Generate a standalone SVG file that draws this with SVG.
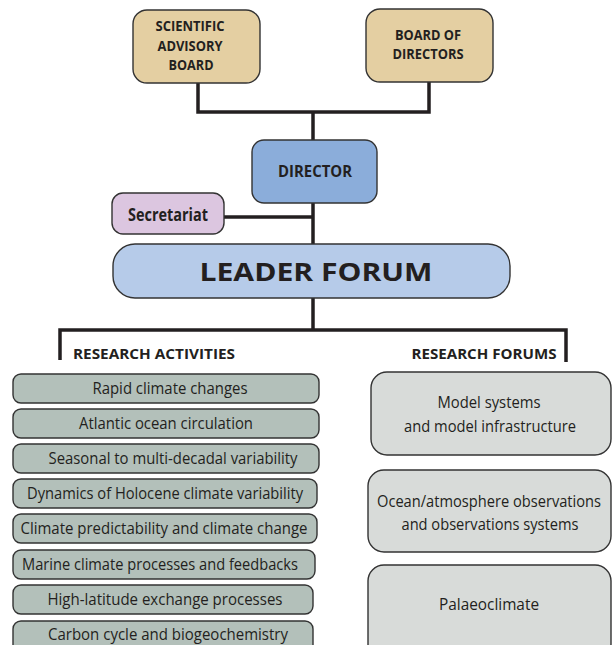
<svg xmlns="http://www.w3.org/2000/svg" width="612" height="645" viewBox="0 0 612 645">
<style>
.box{stroke:#333;stroke-width:1.4}
.tan{fill:#e4cfa2}
.dir{fill:#8badda}
.sec{fill:#dcc6e0}
.lf{fill:#b6cbe9}
.ra{fill:#b3c0ba}
.rf{fill:#d8dbd9}
.hb{font-family:"Open Sans","Liberation Sans",sans-serif;font-weight:bold;fill:#231f20;text-anchor:middle}
.t{font-family:"Open Sans","Liberation Sans",sans-serif;font-size:16px;fill:#231f20;text-anchor:middle}
.conn{stroke:#231f20;stroke-width:3.5;fill:none}
</style>
<g id="connectors">
<polyline class="conn" points="198,83 198,112 429,112 429,82"/>
<line class="conn" x1="313" y1="112" x2="313" y2="141"/>
<line class="conn" x1="313" y1="203" x2="313" y2="245"/>
<line class="conn" x1="224" y1="217" x2="313" y2="217"/>
<line class="conn" x1="313" y1="298" x2="313" y2="330"/>
<polyline class="conn" points="60,360 60,330 566,330 566,362"/>
</g>
<g id="sab">
<rect class="box tan" x="133" y="10" width="127" height="73" rx="14"/>
<text class="hb" font-size="13.5" x="190" y="31" textLength="69" lengthAdjust="spacingAndGlyphs">SCIENTIFIC</text>
<text class="hb" font-size="13.5" x="190" y="51" textLength="65" lengthAdjust="spacingAndGlyphs">ADVISORY</text>
<text class="hb" font-size="13.5" x="191" y="70" textLength="45" lengthAdjust="spacingAndGlyphs">BOARD</text>
</g>
<g id="bod">
<rect class="box tan" x="366" y="9" width="127" height="73" rx="14"/>
<text class="hb" font-size="13.5" x="428" y="40" textLength="66" lengthAdjust="spacingAndGlyphs">BOARD OF</text>
<text class="hb" font-size="13.5" x="428" y="59" textLength="71" lengthAdjust="spacingAndGlyphs">DIRECTORS</text>
</g>
<g id="director">
<rect class="box dir" x="252" y="140" width="125" height="63" rx="12"/>
<text class="hb" font-size="15.5" x="315" y="177" textLength="74" lengthAdjust="spacingAndGlyphs">DIRECTOR</text>
</g>
<g id="secretariat">
<rect class="box sec" x="112" y="193" width="112" height="41" rx="11"/>
<text class="hb" font-size="17" x="168" y="221" textLength="80" lengthAdjust="spacingAndGlyphs">Secretariat</text>
</g>
<g id="leaderforum">
<rect class="box lf" x="113" y="244" width="397" height="54" rx="22"/>
<text class="hb" font-size="25" x="316" y="281" textLength="233" lengthAdjust="spacingAndGlyphs">LEADER FORUM</text>
</g>
<g id="ra-title">
<text class="hb" font-size="15" x="154" y="359" textLength="162" lengthAdjust="spacingAndGlyphs">RESEARCH ACTIVITIES</text>
</g>
<g id="rf-title">
<text class="hb" font-size="15" x="484" y="359" textLength="145" lengthAdjust="spacingAndGlyphs">RESEARCH FORUMS</text>
</g>
<g id="ra1"><rect class="box ra" x="13" y="374" width="306" height="29" rx="8"/><text class="t" x="170" y="394" textLength="155" lengthAdjust="spacingAndGlyphs">Rapid climate changes</text></g>
<g id="ra2"><rect class="box ra" x="13" y="409" width="306" height="29" rx="8"/><text class="t" x="166" y="429" textLength="174" lengthAdjust="spacingAndGlyphs">Atlantic ocean circulation</text></g>
<g id="ra3"><rect class="box ra" x="13" y="444" width="306" height="29" rx="8"/><text class="t" x="173" y="464" textLength="249" lengthAdjust="spacingAndGlyphs">Seasonal to multi-decadal variability</text></g>
<g id="ra4"><rect class="box ra" x="13" y="479" width="304" height="29" rx="8"/><text class="t" x="165" y="499" textLength="276" lengthAdjust="spacingAndGlyphs">Dynamics of Holocene climate variability</text></g>
<g id="ra5"><rect class="box ra" x="13" y="514" width="304" height="29" rx="8"/><text class="t" x="164" y="534" textLength="287" lengthAdjust="spacingAndGlyphs">Climate predictability and climate change</text></g>
<g id="ra6"><rect class="box ra" x="13" y="550" width="302" height="29" rx="8"/><text class="t" x="160" y="570" textLength="276" lengthAdjust="spacingAndGlyphs">Marine climate processes and feedbacks</text></g>
<g id="ra7"><rect class="box ra" x="13" y="585" width="300" height="29" rx="8"/><text class="t" x="165" y="605" textLength="235" lengthAdjust="spacingAndGlyphs">High-latitude exchange processes</text></g>
<g id="ra8"><rect class="box ra" x="13" y="621" width="300" height="40" rx="8"/><text class="t" x="168" y="640" textLength="240" lengthAdjust="spacingAndGlyphs">Carbon cycle and biogeochemistry</text></g>
<g id="rf1"><rect class="box rf" x="371" y="372" width="240" height="83" rx="16"/><text class="t" x="489" y="408" textLength="103" lengthAdjust="spacingAndGlyphs">Model systems</text><text class="t" x="490" y="432" textLength="172" lengthAdjust="spacingAndGlyphs">and model infrastructure</text></g>
<g id="rf2"><rect class="box rf" x="368" y="470" width="243" height="82" rx="16"/><text class="t" font-size="15" x="489" y="507" textLength="224" lengthAdjust="spacingAndGlyphs">Ocean/atmosphere observations</text><text class="t" x="490" y="530" textLength="177" lengthAdjust="spacingAndGlyphs">and observations systems</text></g>
<g id="rf3"><rect class="box rf" x="368" y="565" width="243" height="95" rx="16"/><text class="t" x="489" y="610" textLength="100" lengthAdjust="spacingAndGlyphs">Palaeoclimate</text></g>
</svg>
